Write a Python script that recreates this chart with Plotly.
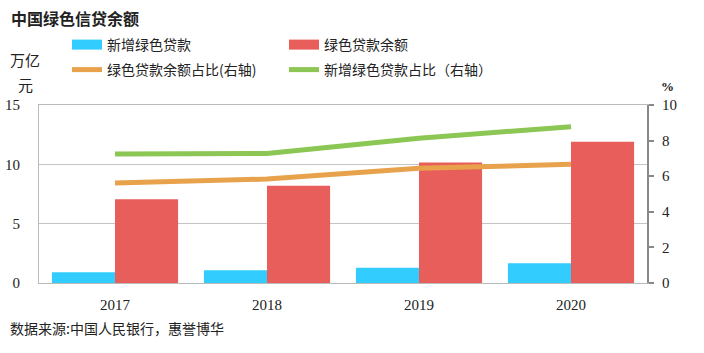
import plotly.graph_objects as go

years = ["2017", "2018", "2019", "2020"]
new_green_loans = [0.9, 1.07, 1.29, 1.66]          # 万亿元, left axis
green_loan_balance = [7.05, 8.2, 10.15, 11.9]      # 万亿元, left axis
balance_share = [5.62, 5.84, 6.44, 6.67]           # %, right axis
new_share = [7.25, 7.27, 8.13, 8.78]               # %, right axis

name_new = "新增绿色贷款"
name_bal = "绿色贷款余额"
name_bal_share = "绿色贷款余额占比(右轴)"
name_new_share = "新增绿色贷款占比（右轴）"

c_blue = "#33CCFF"
c_red = "#E85E5A"
c_orange = "#E8A24C"
c_green = "#8CC654"

cjk = "Noto Sans CJK SC"
serif = "Liberation Serif"

W, H = 704, 353
ML, MR, MT, MB = 39, 57, 105, 70
PW, PH = W - ML - MR, H - MT - MB


def px(xp):
    return (xp - ML) / PW


def py(yp):
    return (H - MB - yp) / PH


fig = go.Figure()
fig.add_trace(go.Bar(x=years, y=new_green_loans, name=name_new, marker_color=c_blue,
                     marker_line_width=0, showlegend=False))
fig.add_trace(go.Bar(x=years, y=green_loan_balance, name=name_bal, marker_color=c_red,
                     marker_line_width=0, showlegend=False))
fig.add_trace(go.Scatter(x=years, y=balance_share, name=name_bal_share, yaxis="y2",
                         mode="lines", line=dict(color=c_orange, width=5), legend="legend2"))
fig.add_trace(go.Scatter(x=years, y=new_share, name=name_new_share, yaxis="y2",
                         mode="lines", line=dict(color=c_green, width=5), legend="legend2"))
# legend entries for bars (wide swatches as in the reference)
fig.add_trace(go.Scatter(x=[None], y=[None], name=name_new, mode="lines",
                         line=dict(color=c_blue, width=12), legend="legend"))
fig.add_trace(go.Scatter(x=[None], y=[None], name=name_bal, mode="lines",
                         line=dict(color=c_red, width=12), legend="legend"))

legend_common = dict(orientation="h", xref="container", yref="container",
                     xanchor="left", yanchor="middle", entrywidth=172, entrywidthmode="pixels",
                     font=dict(family=cjk, size=14, color="#222"), bgcolor="rgba(0,0,0,0)",
                     itemwidth=30, tracegroupgap=0)


def ann(text, xp, yp, anchor, family, size):
    return dict(text=text, x=px(xp), y=py(yp), xref="paper", yref="paper",
                xanchor=anchor, yanchor="middle", showarrow=False,
                font=dict(family=family, size=size, color="#222"))


fig.update_layout(
    width=W, height=H,
    margin=dict(l=ML, r=MR, t=MT, b=MB, autoexpand=False),
    paper_bgcolor="white", plot_bgcolor="white",
    barmode="group", bargap=0.17, bargroupgap=0,
    legend=dict(x=67 / W, y=1 - 45 / H, **legend_common),
    legend2=dict(x=67 / W, y=1 - 70 / H, **legend_common),
    xaxis=dict(showline=True, mirror=True, linecolor="#bbbbbb", linewidth=1, ticks="",
               tickfont=dict(family=serif, size=15, color="#222"), ticklabelstandoff=8,
               showgrid=False, fixedrange=True, automargin=False),
    yaxis=dict(range=[0, 15], dtick=5, showline=True, linecolor="#bbbbbb", linewidth=1,
               showgrid=True, gridcolor="#c4c4c4", gridwidth=1, ticks="",
               tickfont=dict(family=serif, size=15, color="#222"), ticklabelstandoff=15,
               zeroline=False, automargin=False),
    yaxis2=dict(range=[0, 10], dtick=2, overlaying="y", side="right", showgrid=False,
                showline=True, linecolor="#888888", linewidth=2, ticks="outside",
                ticklen=5, tickcolor="#888888", tickwidth=2,
                tickfont=dict(family=serif, size=15, color="#222"), ticklabelstandoff=5,
                zeroline=False, automargin=False),
    font=dict(family=cjk),
    annotations=[
        ann("<b>中国绿色信贷余额</b>", 9, 18, "left", cjk, 16),
        ann("万亿", 25, 59, "center", cjk, 15),
        ann("元", 25, 85, "center", cjk, 15),
        ann("<b>%</b>", 667, 86, "center", serif, 13),
        ann("数据来源:中国人民银行，惠誉博华", 8, 328, "left", cjk, 14),
    ],
)

fig.write_html("out.html")
